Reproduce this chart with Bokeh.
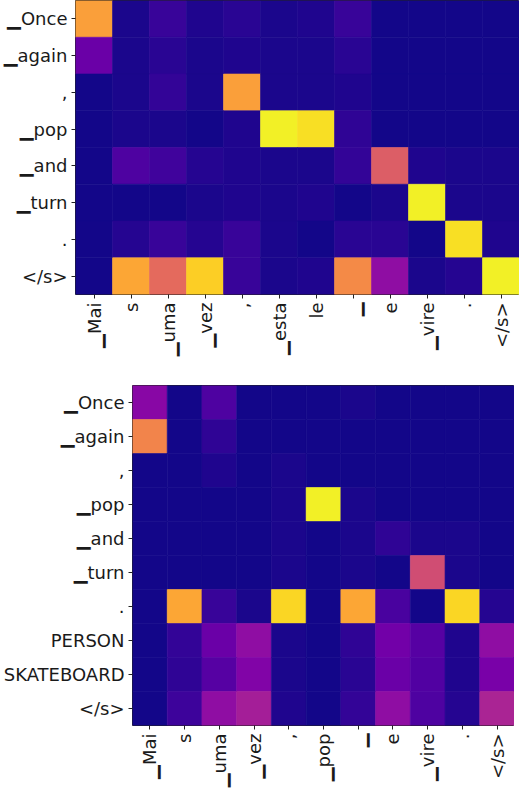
import math
from bokeh.plotting import figure
from bokeh.models import LinearColorMapper, FactorRange, ColumnDataSource
from bokeh.palettes import Plasma256
from bokeh.layouts import column
from bokeh.embed import file_html
from bokeh.resources import INLINE

# ---- data: top attention map ----
top_rows = ["▁Once", "▁again", ",", "▁pop", "▁and", "▁turn", ".", "</s>"]
top_cols = ["▁Mai", "s", "▁uma", "▁vez", ",", "▁esta", "le", "▁", "e", "▁vire", ".", "</s>"]
top_vals = [
    [0.78, 0.02, 0.08, 0.03, 0.05, 0.02, 0.03, 0.08, 0.01, 0.01, 0.01, 0.01],
    [0.20, 0.02, 0.05, 0.02, 0.03, 0.02, 0.02, 0.05, 0.01, 0.01, 0.01, 0.01],
    [0.01, 0.02, 0.07, 0.02, 0.78, 0.02, 0.02, 0.03, 0.01, 0.01, 0.01, 0.01],
    [0.01, 0.02, 0.02, 0.01, 0.03, 0.98, 0.94, 0.06, 0.01, 0.01, 0.01, 0.01],
    [0.01, 0.13, 0.10, 0.04, 0.03, 0.02, 0.02, 0.07, 0.58, 0.03, 0.02, 0.02],
    [0.01, 0.01, 0.01, 0.02, 0.03, 0.02, 0.03, 0.01, 0.02, 0.98, 0.02, 0.02],
    [0.01, 0.04, 0.08, 0.04, 0.08, 0.02, 0.01, 0.05, 0.05, 0.01, 0.94, 0.03],
    [0.01, 0.80, 0.62, 0.90, 0.08, 0.02, 0.03, 0.72, 0.30, 0.02, 0.04, 0.98],
]

# ---- data: bottom attention map ----
bot_rows = ["▁Once", "▁again", ",", "▁pop", "▁and", "▁turn", ".", "PERSON", "SKATEBOARD", "</s>"]
bot_cols = ["▁Mai", "s", "▁uma", "▁vez", ",", "▁pop", "▁", "e", "▁vire", ".", "</s>"]
bot_vals = [
    [0.28, 0.01, 0.13, 0.01, 0.01, 0.01, 0.02, 0.01, 0.01, 0.01, 0.01],
    [0.70, 0.01, 0.06, 0.01, 0.01, 0.01, 0.01, 0.01, 0.01, 0.01, 0.01],
    [0.01, 0.01, 0.03, 0.01, 0.02, 0.01, 0.01, 0.01, 0.01, 0.01, 0.01],
    [0.01, 0.01, 0.01, 0.01, 0.02, 0.98, 0.02, 0.01, 0.01, 0.01, 0.01],
    [0.01, 0.01, 0.01, 0.01, 0.02, 0.01, 0.02, 0.06, 0.02, 0.02, 0.01],
    [0.01, 0.01, 0.01, 0.01, 0.02, 0.01, 0.02, 0.01, 0.52, 0.02, 0.01],
    [0.01, 0.80, 0.08, 0.02, 0.92, 0.01, 0.80, 0.12, 0.01, 0.92, 0.04],
    [0.01, 0.07, 0.20, 0.30, 0.02, 0.01, 0.06, 0.22, 0.15, 0.03, 0.30],
    [0.01, 0.06, 0.15, 0.26, 0.02, 0.01, 0.05, 0.20, 0.14, 0.03, 0.24],
    [0.01, 0.09, 0.30, 0.36, 0.03, 0.01, 0.07, 0.30, 0.13, 0.04, 0.38],
]

FONT = "DejaVu Sans"
FSIZE = "18px"


def heatmap(rows, cols, vals, fw, fh, left, top):
    xs, ys, vs = [], [], []
    for i, r in enumerate(rows):
        for j, c in enumerate(cols):
            xs.append(c)
            ys.append(r)
            vs.append(vals[i][j])
    src = ColumnDataSource(dict(x=xs, y=ys, v=vs))
    mapper = LinearColorMapper(palette=Plasma256, low=0.0, high=1.0)
    p = figure(frame_width=fw, frame_height=fh,
               x_range=FactorRange(factors=cols),
               y_range=FactorRange(factors=list(reversed(rows))),
               output_backend="svg", toolbar_location=None, tools="",
               min_border_left=left, min_border_right=0,
               min_border_top=top, min_border_bottom=0)
    p.frame_align = False
    cmap = {"field": "v", "transform": mapper}
    p.rect(x="x", y="y", width=1, height=1, source=src,
           fill_color=cmap, line_color=cmap, line_width=0.6)
    p.grid.visible = False
    p.outline_line_color = "#222222"
    p.outline_line_width = 1
    p.background_fill_color = "white"
    for ax in (p.xaxis, p.yaxis):
        ax.axis_label = None
        ax.axis_label_standoff = 0
        ax.axis_line_color = None
        ax.major_tick_in = 0
        ax.major_tick_out = 4
        ax.major_tick_line_color = "#222222"
        ax.minor_tick_line_color = None
        ax.major_label_text_font = FONT
        ax.major_label_text_font_size = FSIZE
        ax.major_label_text_color = "#1a1a1a"
        ax.major_label_standoff = 4
    p.xaxis.major_label_orientation = math.pi / 2
    return p


p1 = heatmap(top_rows, top_cols, top_vals, 444, 294, 70, 0)
p2 = heatmap(bot_rows, bot_cols, bot_vals, 382, 340, 132, 26)

layout = column(p1, p2, spacing=0)
open("out.html", "w").write(file_html(layout, INLINE))
